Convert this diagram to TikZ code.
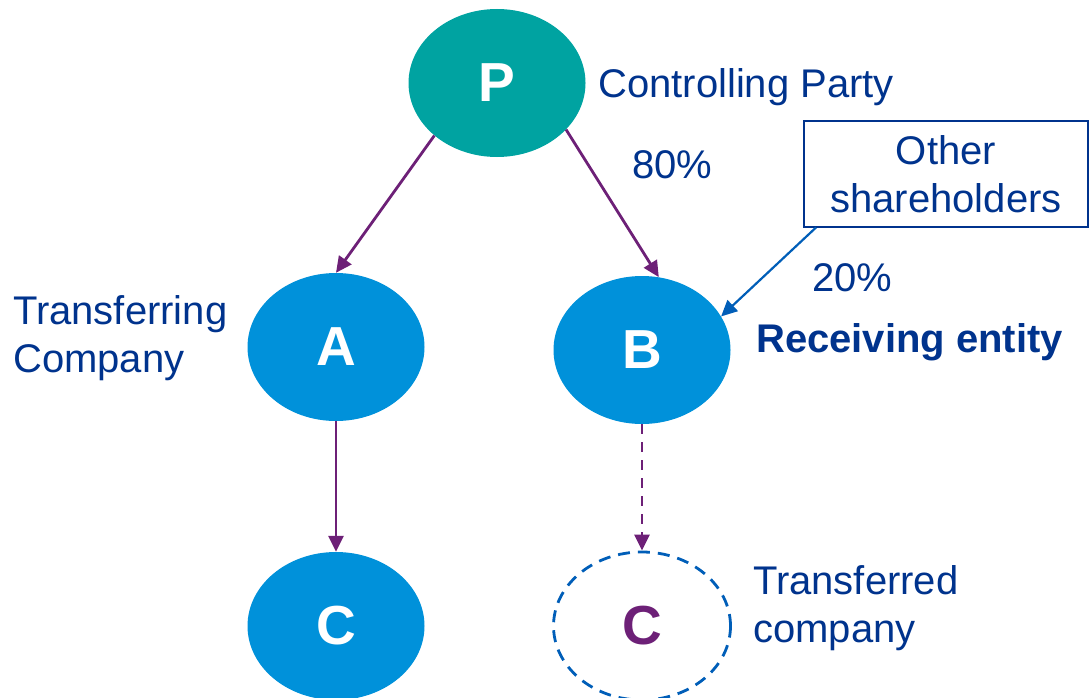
\documentclass[tikz,border=0pt]{standalone}
\usepackage{fontspec}
\setmainfont{Liberation Sans}
\usetikzlibrary{shapes.geometric,arrows.meta}
\definecolor{kteal}{RGB}{0,163,161}
\definecolor{kblue}{RGB}{0,145,218}
\definecolor{kdark}{RGB}{0,51,141}
\definecolor{kpurple}{RGB}{109,32,119}
\definecolor{kcobalt}{RGB}{0,94,184}
\tikzset{
  entity/.style={ellipse, minimum width=177pt, minimum height=148pt, inner sep=0pt,
    fill=kblue, text=white, font=\fontsize{55}{60}\selectfont\bfseries},
  lbl/.style={text=kdark, font=\fontsize{40}{48}\selectfont, inner sep=0pt, align=left},
  own/.style={draw=kpurple, line width=2.8pt, -{Triangle[length=16pt,width=15pt]}},
}
\begin{document}
\begin{tikzpicture}[x=1pt,y=-1pt]
  \useasboundingbox (0,0) rectangle (1089,698);
  % ownership chain
  \node[entity, fill=kteal] (P) at (497,83) {P};
  \node[entity] (A) at (336,347) {A};
  \node[entity] (B) at (642,350) {B};
  \node[entity] (C1) at (336,626) {C};
  \node[entity, fill=none, draw=kcobalt, line width=2.8pt, dash pattern=on 12pt off 8pt,
        text=kpurple] (C2) at (642,626) {C};
  \node[draw=kdark, line width=2pt, minimum width=284pt, minimum height=105pt,
        inner sep=0pt, align=center, text=kdark, font=\fontsize{40}{48}\selectfont]
        (other) at (946,174) {Other\\shareholders};
  % connectors
  \draw[own] (P.220) -- (A.north);
  \draw[own] (P.-34) -- (B.77);
  \draw[own] (A.south) -- (C1.north);
  \draw[own, dash pattern=on 10pt off 8pt] (B.south) -- (C2.north);
  \draw[draw=kcobalt, line width=2.2pt, -{Triangle[length=16pt,width=15pt]}]
        ([xshift=13pt]other.south west) -- (B.23);
  % labels
  \node[lbl, anchor=base west] (lp) at (598,98) {Controlling Party};
  \node[lbl, anchor=base west] (l80) at (632,178) {80\%};
  \node[lbl, anchor=base west] (l20) at (812,291) {20\%};
  \node[lbl, anchor=base west, font=\fontsize{40}{48}\selectfont\bfseries] (lrec) at (756,352) {Receiving entity};
  \node[lbl, anchor=base west] (ltr) at (13,372) {Transferring\\Company};
  \node[lbl, anchor=base west] (ltd) at (753,642) {Transferred\\company};
\end{tikzpicture}
\end{document}
